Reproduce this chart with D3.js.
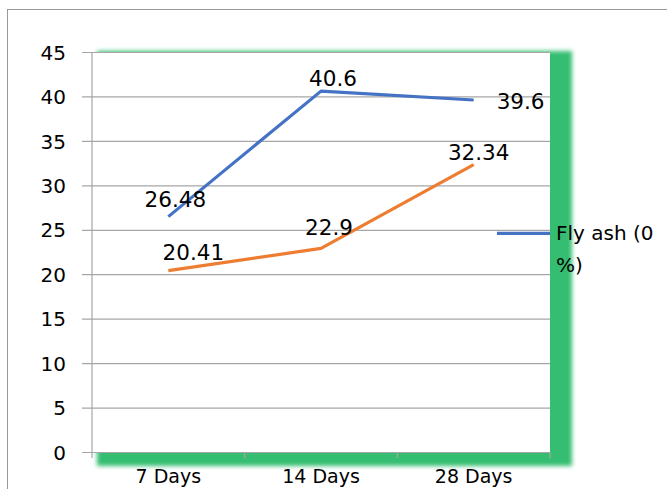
<!DOCTYPE html>
<html>
<head>
<meta charset="utf-8">
<script src="https://cdn.jsdelivr.net/npm/d3@7"></script>
<style>
  html, body { margin: 0; padding: 0; background: #fff; }
  svg { display: block; }
  text { font-family: "DejaVu Sans", sans-serif; fill: #000; }
</style>
</head>
<body>
<svg id="chart" width="667" height="489"></svg>
<script>
// ---- data ----
const categories = ["7 Days", "14 Days", "28 Days"];
const seriesNames = ["Fly ash (0 %)", "Fly ash (series 2)"];
const flyAsh0 = [26.48, 40.6, 39.6];
const series2 = [20.41, 22.9, 32.34];
const yTicks = [0, 5, 10, 15, 20, 25, 30, 35, 40, 45];

// ---- layout ----
const W = 667, H = 489;
const plot = { left: 92, right: 550, top: 52, bottom: 452 };
const colors = ["#4472C4", "#ED7D31"];
// label placement relative to point: [dx, dy, anchor]
const labelPlacement = [
  [[7, -10, "middle"], [12, -5, "middle"], [23, 9, "start"]],
  [[25, -10.5, "middle"], [8, -13, "middle"], [5, -4.5, "middle"]]
];

const svg = d3.select("#chart");

const x = d3.scaleBand().domain(categories).range([plot.left, plot.right]).padding(0);
const cx = c => x(c) + x.bandwidth() / 2;
const y = d3.scaleLinear().domain([0, 45]).range([plot.bottom, plot.top]);

// outer chart border
svg.append("rect")
  .attr("x", 7.5).attr("y", 9.5)
  .attr("width", W + 20).attr("height", H + 20)
  .attr("fill", "#fff").attr("stroke", "#999").attr("stroke-width", 1);

// green shadow
const defs = svg.append("defs");
defs.append("filter").attr("id", "blur")
  .attr("x", "-10%").attr("y", "-10%").attr("width", "120%").attr("height", "120%")
  .append("feGaussianBlur").attr("stdDeviation", 2.2);

svg.append("rect")
  .attr("x", plot.left + 5).attr("y", plot.top - 1)
  .attr("width", plot.right - plot.left + 17)
  .attr("height", plot.bottom - plot.top + 15)
  .attr("fill", "#35BE72")
  .attr("filter", "url(#blur)");

// plot area
svg.append("rect")
  .attr("x", plot.left).attr("y", plot.top)
  .attr("width", plot.right - plot.left).attr("height", plot.bottom - plot.top)
  .attr("fill", "#fff");

// gridlines + y axis
const yAxis = d3.axisLeft(y).tickValues(yTicks)
  .tickSize(plot.right - plot.left + 10).tickPadding(16).tickFormat(d3.format("d"));
const gy = svg.append("g").attr("transform", `translate(${plot.right},0)`).call(yAxis);
gy.select(".domain").remove();
gy.selectAll(".tick line").attr("stroke", "#A6A6A6").attr("stroke-width", 1.2);
gy.selectAll(".tick text")
  .attr("x", -(plot.right - 66))
  .attr("dy", "0.36em")
  .style("font-size", "20px")
  .style("font-family", "DejaVu Sans, sans-serif")
  .attr("fill", "#000");

// vertical axis line
svg.append("line")
  .attr("x1", plot.left).attr("x2", plot.left)
  .attr("y1", plot.top).attr("y2", plot.bottom + 6)
  .attr("stroke", "#A6A6A6").attr("stroke-width", 1.2);

// x axis ticks at band boundaries
svg.append("g").selectAll("line").data(categories).join("line")
  .attr("x1", d => x(d) + x.bandwidth()).attr("x2", d => x(d) + x.bandwidth())
  .attr("y1", plot.bottom).attr("y2", plot.bottom + 6)
  .attr("stroke", "#A6A6A6").attr("stroke-width", 1.2);

// x labels
svg.append("g").selectAll("text").data(categories).join("text")
  .attr("x", d => cx(d)).attr("y", 483)
  .attr("text-anchor", "middle")
  .style("font-size", "19px")
  .text(d => d);

// lines
const allSeries = [flyAsh0, series2];
const line = d3.line().x((d, i) => cx(categories[i])).y(d => y(d));
allSeries.slice().reverse().forEach((vals, ri) => {
  const si = allSeries.length - 1 - ri;
  svg.append("path")
    .datum(vals)
    .attr("d", line)
    .attr("fill", "none")
    .attr("stroke", colors[si])
    .attr("stroke-width", 3.2)
    .attr("stroke-linejoin", "round");
});

// data labels
allSeries.forEach((vals, si) => {
  svg.append("g").selectAll("text").data(vals).join("text")
    .attr("x", (d, i) => cx(categories[i]) + labelPlacement[si][i][0])
    .attr("y", (d, i) => y(d) + labelPlacement[si][i][1])
    .attr("text-anchor", (d, i) => labelPlacement[si][i][2])
    .style("font-size", "21.5px")
    .text(d => String(d));
});

// legend (first entry visible)
const lg = svg.append("g");
lg.append("line")
  .attr("x1", 497).attr("x2", plot.right)
  .attr("y1", y(24.6)).attr("y2", y(24.6))
  .attr("stroke", colors[0]).attr("stroke-width", 3.2);
const lt = lg.append("text").attr("x", 556).attr("y", 239.5).style("font-size", "20px");
const parts = seriesNames[0].split(" %");
lt.append("tspan").attr("x", 556).text(parts[0]);
lt.append("tspan").attr("x", 556).attr("dy", 32).text("%" + parts[1]);
</script>
</body>
</html>
